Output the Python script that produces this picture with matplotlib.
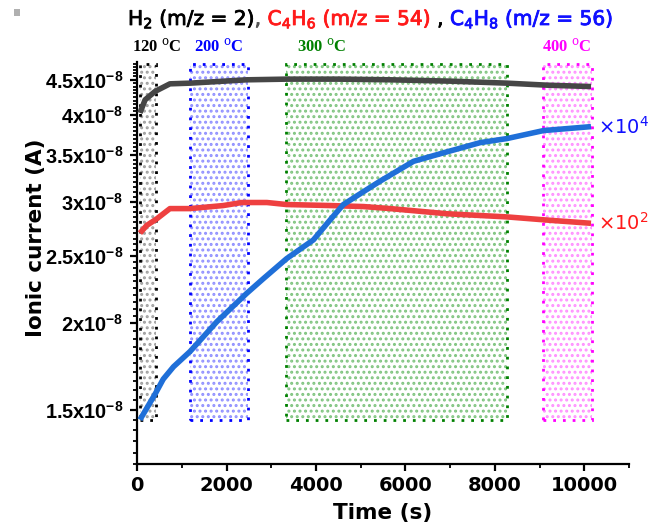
import matplotlib
matplotlib.use("Agg")
import matplotlib.pyplot as plt
import matplotlib.patheffects as pe
from matplotlib.patches import Rectangle
from matplotlib.ticker import FixedLocator, MultipleLocator, NullFormatter
import matplotlib.transforms as mtransforms

# values (time in s, current in 1e-8 A)
t_h2 = [60, 175, 400, 730, 1180, 2450, 3340, 4500, 5660, 7000, 8270, 9170, 10150]
i_h2 = [4.03, 4.21, 4.33, 4.44, 4.45, 4.50, 4.51, 4.51, 4.50, 4.48, 4.45, 4.42, 4.40]

t_c4h6 = [60, 210, 430, 730, 1180, 1925, 2340, 2900, 3340, 4310, 5060, 5660,
          6930, 8270, 9170, 10150]
i_c4h6 = [2.70, 2.77, 2.83, 2.93, 2.93, 2.96, 2.99, 2.99, 2.97, 2.96, 2.95, 2.93,
          2.88, 2.85, 2.82, 2.79]

t_c4h8 = [60, 400, 580, 810, 1180, 1780, 2450, 2820, 3340, 3940, 4310, 4610,
          5060, 5430, 6180, 6930, 7670, 8270, 9090, 10150]
i_c4h8 = [1.45, 1.58, 1.66, 1.73, 1.82, 2.01, 2.21, 2.32, 2.48, 2.64, 2.82, 2.97,
          3.10, 3.21, 3.43, 3.54, 3.65, 3.70, 3.80, 3.85]

# temperature windows
zone_start = [60, 1175, 3330, 9080]
zone_end = [420, 2480, 8270, 10180]
zone_label = ["120 $^{\\rm o}$C", "200 $^{\\rm o}$C", "300 $^{\\rm o}$C", "400 $^{\\rm o}$C"]
zone_label_x = [440, 1810, 4130, 9600]
zone_color = ["black", "#0000ff", "#008000", "#ff00ff"]
zone_dots = ["#a0a0a0", "#9090ff", "#80c480", "#ff90ff"]

yticks = [1.5, 2, 2.5, 3, 3.5, 4, 4.5]
ytick_labels = ["1.5", "2", "2.5", "3", "3.5", "4", "4.5"]

plt.rcParams["hatch.linewidth"] = 1.4
# tick-label exponents drawn with Arial-like bold glyphs
plt.rcParams["mathtext.fontset"] = "custom"
plt.rcParams["mathtext.rm"] = "Liberation Sans:bold"
plt.rcParams["mathtext.bf"] = "Liberation Sans:bold"

fig = plt.figure(figsize=(6.5, 5.29), dpi=100)
ax = fig.add_axes([0.2112, 0.1223, 0.7565, 0.7611])

sc = 1e-8
ax.set_yscale("log")
ax.set_xlim(0, 11000)
ax.set_ylim(1.25 * sc, 4.78 * sc)

for x0, x1, ec, dc in zip(zone_start, zone_end, zone_color, zone_dots):
    lo, hi = 1.447 * sc, 4.75 * sc
    ax.add_patch(Rectangle((x0, lo), x1 - x0, hi - lo, facecolor="none",
                           edgecolor=dc, hatch="...", linewidth=0, zorder=1))
    ax.add_patch(Rectangle((x0, lo), x1 - x0, hi - lo, fill=False,
                           edgecolor=ec, linestyle=(0, (1, 2.5)), linewidth=2, zorder=2))

trans = mtransforms.blended_transform_factory(ax.transData, ax.transAxes)
for x, s, c in zip(zone_label_x, zone_label, zone_color):
    ax.text(x, 1.037, s, color=c, ha="center", va="center", transform=trans,
            fontsize=12, fontweight="bold", family="Liberation Serif",
            math_fontfamily="dejavuserif")

ax.plot(t_h2, [v * sc for v in i_h2], color="#464646", lw=4, solid_capstyle="butt", zorder=3)
ax.plot(t_c4h6, [v * sc for v in i_c4h6], color="#ee4040", lw=4, solid_capstyle="butt", zorder=3)
ax.plot(t_c4h8, [v * sc for v in i_c4h8], color="#1f6fd8", lw=4, solid_capstyle="butt", zorder=4)

ax.text(10300, 3.85 * sc, "×10$^4$", color="#1010ff", fontsize=14, va="center", ha="left",
        math_fontfamily="dejavusans")
ax.text(10300, 2.79 * sc, "×10$^2$", color="#ff1a1a", fontsize=14, va="center", ha="left",
        math_fontfamily="dejavusans")

ax.yaxis.set_major_locator(FixedLocator([v * sc for v in yticks]))
ax.yaxis.set_major_formatter(plt.FixedFormatter(
    [lab + "x10$^{\\mathbf{-8}}$" for lab in ytick_labels]))
ax.yaxis.set_minor_locator(MultipleLocator(0.05 * sc))
ax.yaxis.set_minor_formatter(NullFormatter())
ax.xaxis.set_major_locator(MultipleLocator(2000))
ax.xaxis.set_minor_locator(MultipleLocator(1000))

for side in ["top", "right"]:
    ax.spines[side].set_visible(False)
for side in ["left", "bottom"]:
    ax.spines[side].set_linewidth(1.6)

ax.tick_params(which="major", direction="out", length=5, width=1.6)
ax.tick_params(axis="x", which="major", labelsize=14)
ax.tick_params(axis="y", which="major", labelsize=14.3, pad=5)
ax.tick_params(which="minor", direction="out", length=3, width=1.3)
for lab in ax.get_xticklabels():
    lab.set_fontweight("bold")
for lab in ax.get_yticklabels():
    lab.set_fontweight("bold")
    lab.set_family("Liberation Sans")

ax.set_xlabel("Time (s)", fontsize=15.5, fontweight="bold")
ax.set_ylabel("Ionic current (A)", fontsize=15.5, fontweight="bold")
ax.xaxis.set_label_coords(0.498, -0.096)
ax.yaxis.set_label_coords(-0.186, 0.562)

# multi-coloured title, slightly thickened to look semibold
renderer = fig.canvas.get_renderer()
pieces = [("H$_2$ (m/z = 2)", "black"), (", ", "#555555"),
          ("C$_4$H$_6$ (m/z = 54)", "#ff1a1a"), (" , ", "black"),
          ("C$_4$H$_8$ (m/z = 56)", "#1010ff")]
x = 128 / 650
for s, c in pieces:
    txt = fig.text(x, 1 - 25 / 529, s, color=c, fontsize=14.5, va="baseline",
                   math_fontfamily="dejavusans")
    txt.set_path_effects([pe.withStroke(linewidth=0.6, foreground=c)])
    x += txt.get_window_extent(renderer).width / fig.bbox.width

fig.patches.append(Rectangle((14 / 650, 1 - 16 / 529), 6 / 650, 7 / 529,
                             transform=fig.transFigure, facecolor="#b0b0b0",
                             edgecolor="none", figure=fig))

fig.savefig("out.png", dpi=100)
